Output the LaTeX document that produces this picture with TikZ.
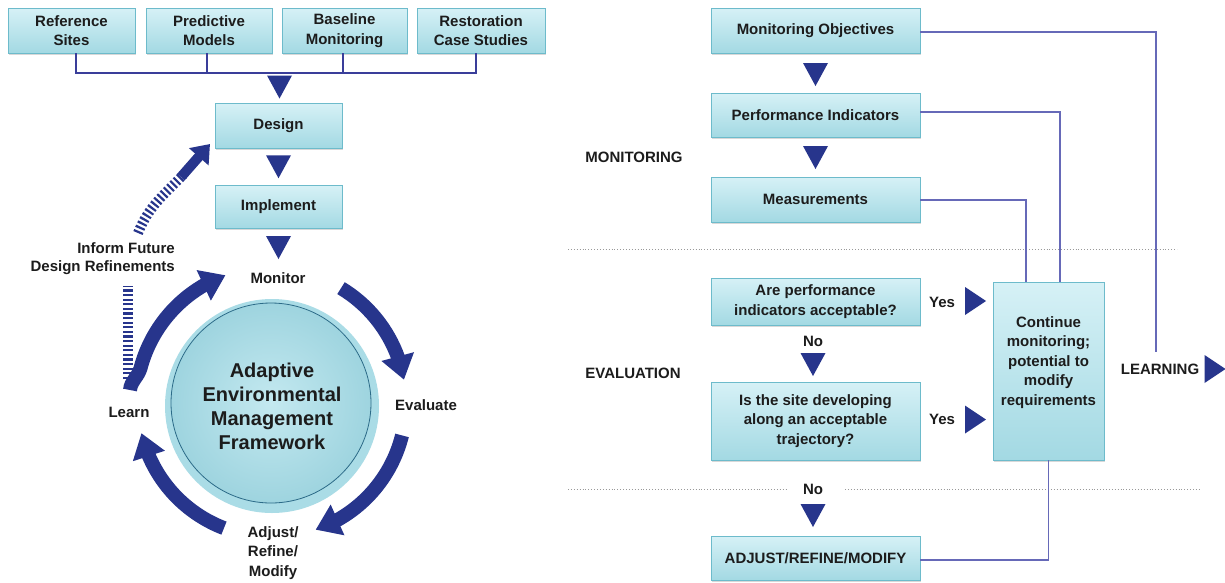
\documentclass[tikz,border=0pt]{standalone}
\usepackage{fontspec}
\setmainfont{Liberation Sans}
\usetikzlibrary{arrows.meta,bending,shadows,calc}
\definecolor{navy}{HTML}{27358C}
\definecolor{feedc}{HTML}{3A3E9A}
\definecolor{linkc}{HTML}{6669B8}
\definecolor{boxtop}{HTML}{D6F1F6}
\definecolor{boxbot}{HTML}{A3D9E3}
\definecolor{boxedge}{HTML}{6DBBCB}
\definecolor{txt}{HTML}{1C1C1C}
\definecolor{halo}{HTML}{AADCE6}
\definecolor{diskin}{HTML}{C4E9F0}
\definecolor{diskout}{HTML}{9ED4DF}
\definecolor{ringc}{HTML}{2C6B88}
\newcommand\lblfont{\bfseries\fontsize{15}{19.5}\selectfont}
\newcommand\bigfont{\bfseries\fontsize{20}{24}\selectfont}
\begin{document}
\begin{tikzpicture}[x=1pt,y=1pt,
  box/.style={draw=boxedge, line width=0.9pt, top color=boxtop, bottom color=boxbot,
    drop shadow={shadow xshift=1.3pt, shadow yshift=-1.5pt, opacity=0.3},
    inner sep=2pt, align=center, text=txt, font=\lblfont},
  lbl/.style={text=txt, font=\lblfont, align=center, inner sep=0pt},
  feed/.style={draw=feedc, line width=2.4pt},
  link/.style={draw=linkc, line width=1.3pt},
  sep/.style={draw=gray!80, line width=0.9pt, dotted},
  bigarrow/.style={draw=navy, line width=14pt, -{Triangle[width=32pt,length=24pt]}},
  hatch/.style={draw=navy, line width=10pt, dash pattern=on 2.2pt off 2.4pt},
  smallarrow/.style={draw=navy, line width=10pt, -{Triangle[width=25pt,length=17pt]}},
  tridown/.pic={\fill[navy] (-12.5,11.5) -- (12.5,11.5) -- (0,-11.5) -- cycle;},
  triright/.pic={\fill[navy] (-10.5,14) -- (10.5,0) -- (-10.5,-14) -- cycle;}
]
\useasboundingbox[fill=white] (0,0) rectangle (1225,-582);

% ---------- left: inputs ----------
\node[box, minimum width=127pt, minimum height=45pt] (ref)  at (71.5,-30.5) {Reference\\Sites};
\node[box, minimum width=126pt, minimum height=45pt] (pred) at (209,-30.5) {Predictive\\Models};
\node[box, minimum width=125pt, minimum height=45pt] (base) at (344.5,-30.5) {Baseline\\Monitoring};
\node[box, minimum width=128pt, minimum height=45pt] (rest) at (481,-30.5) {Restoration\\Case Studies};
\coordinate (bus) at (0,-73);
\draw[feed] ([xshift=4.5pt]ref.south) |- ([xshift=-5pt]rest.south |- bus) -- ([xshift=-5pt]rest.south);
\draw[feed] ([xshift=-2pt]pred.south) -- ([xshift=-2pt]pred.south |- bus);
\draw[feed] ([xshift=-1.5pt]base.south) -- ([xshift=-1.5pt]base.south |- bus);

\node[box, minimum width=127pt, minimum height=45pt] (design) at (278.5,-125.5) {Design};
\node[box, minimum width=127pt, minimum height=43pt] (impl) at (278.5,-207) {Implement};
\pic at (279.5,-87) {tridown};
\pic at ($(design.south)!0.5!(impl.north)+(0,0)$) {tridown};
\pic at (278.5,-247.5) {tridown};

% ---------- circle ----------
\coordinate (C) at (272,-403);
\fill[halo] (272,-406) circle[radius=107];
\shade[inner color=diskin, outer color=diskout] (271,-403) circle[radius=100];
\draw[ringc, line width=0.8pt] (271,-403) circle[radius=100];
\node[lbl, font=\bigfont] (aem) at (272,-406) {Adaptive\\Environmental\\Management\\Framework};

\node[lbl] (mon)   at (278,-278) {Monitor};
\node[lbl] (eval)  at (426,-405) {Evaluate};
\node[lbl] (adj)   at (273,-553) {Adjust/\\Refine/\\Modify};
\node[lbl] (learn) at (129,-412) {Learn};
\node[lbl, align=right, anchor=east, font=\bfseries\fontsize{15}{18}\selectfont] (inform) at (175,-259) {Inform Future\\Design Refinements};

\draw[bigarrow] ($(C)+(59:134)$) arc[start angle=59, end angle=10, radius=134];
\draw[bigarrow] ($(C)+(-14:134)$) arc[start angle=-14, end angle=-71, radius=134];
\draw[bigarrow] ($(C)+(-111:134)$) arc[start angle=-111, end angle=-167, radius=134];
\draw[bigarrow] (130,-390) to[out=84,in=255] ($(C)+(165:136)$) arc[start angle=165, end angle=110, radius=136];

\draw[hatch] (128,-379) -- (128,-286);
\draw[hatch] (138,-233) to[out=68,in=226] (183,-175);
\draw[smallarrow] (181,-177) -- (210,-144);

% ---------- right: monitoring ----------
\node[box, minimum width=209pt, minimum height=45pt] (mo)   at (815.5,-30.5) {Monitoring Objectives};
\node[box, minimum width=209pt, minimum height=44pt] (pi)   at (815.5,-115) {Performance Indicators};
\node[box, minimum width=209pt, minimum height=45pt] (meas) at (815.5,-199.5) {Measurements};
\pic at ($(mo.south)!0.5!(pi.north)+(0,-1.5)$) {tridown};
\pic at ($(pi.south)!0.5!(meas.north)+(0,-0.5)$) {tridown};
\node[lbl] (monlab) at (634,-157) {MONITORING};

\draw[sep] (568,-249.5) -- (1177,-249.5);

% ---------- evaluation ----------
\node[box, minimum width=209pt, minimum height=47pt] (q1) at (815.5,-301.5) {Are performance\\indicators acceptable?};
\node[box, minimum width=209pt, minimum height=78pt] (q2) at (815.5,-421) {Is the site developing\\along an acceptable\\trajectory?};
\node[box, minimum width=111pt, minimum height=178pt] (cont) at (1048.5,-371) {};
\node[lbl] (conttxt) at ([yshift=8.5pt]cont.center) {Continue\\monitoring;\\potential to\\modify\\requirements};
\node[lbl] (evallab) at (633,-373) {EVALUATION};

\node[lbl] (yes1) at (942,-302) {Yes};
\node[lbl] (yes2) at (942,-419) {Yes};
\pic at (975.5,-301) {triright};
\pic at (975.5,-419.5) {triright};
\node[lbl] (no1) at (813,-341) {No};
\pic at (813,-364.5) {tridown};

\draw[sep] (568,-489) -- (787,-489);
\draw[sep] (845,-489) -- (1201,-489);
\node[lbl] (no2) at (813,-489) {No};
\pic at (813,-515.5) {tridown};
\node[box, minimum width=209pt, minimum height=44pt] (adjb) at (815.5,-558) {ADJUST/REFINE/MODIFY};

\node[lbl] (learnlab) at (1160,-369) {LEARNING};
\pic at (1215,-369) {triright};

% connectors
\coordinate (learnend) at (1156,-352);
\draw[link] ([yshift=-1.5pt]mo.east) -| (learnend);
\draw[link] ([yshift=3pt]pi.east) -| (cont.north -| 1060,0);
\draw[link] ([yshift=-0.5pt]meas.east) -| (cont.north -| 1026,0);
\draw[link] ([yshift=-2pt]adjb.east) -| (cont.south);
\end{tikzpicture}
\end{document}
